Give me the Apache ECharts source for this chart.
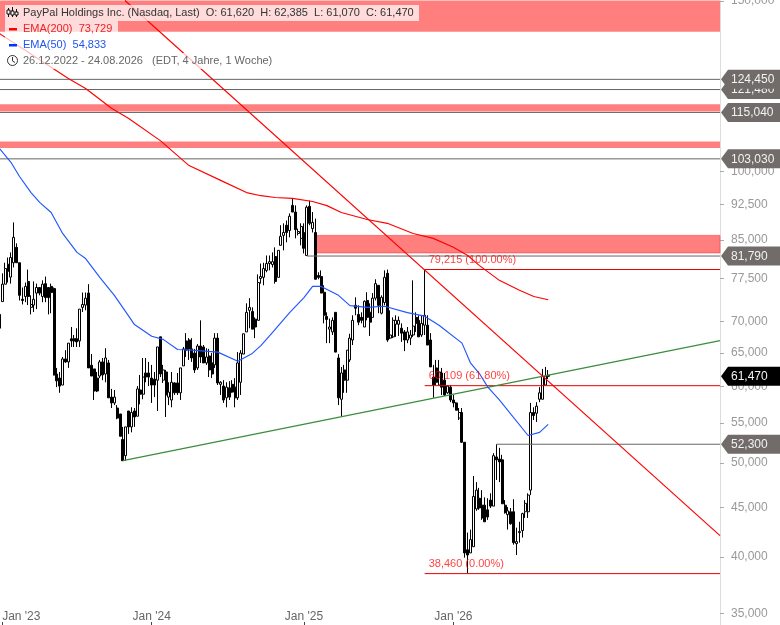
<!DOCTYPE html>
<html><head><meta charset="utf-8">
<style>html,body{margin:0;padding:0;background:#fff}#c{width:780px;height:625px}</style>
<script src="https://cdn.jsdelivr.net/npm/echarts@6/dist/echarts.min.js"></script>
</head><body><div id="c"></div>
<script>
// weekly candles, one per week starting 26.12.2022 (week index = array position)
const opens=[68.9,73.4,76.5,80.2,77.8,80.5,83.5,80.5,73.8,74.3,77.0,72.4,72.8,74.9,75.9,74.3,76.6,75.9,76.1,75.7,61.8,61.2,60.2,64.05,63.6,67.2,67.2,67.2,66.85,72.4,72.8,74.9,63.1,62.55,61.2,61.5,63.6,61.8,63.45,58.5,57.7,57.0,56.2,52.9,50.9,56.6,54.5,56.6,55.9,59.5,58.9,61.95,61.95,61.2,61.05,60.9,67.5,60.9,62.1,58.5,58.1,60.5,60.5,59.1,63.0,66.85,67.0,65.6,64.95,62.7,66.05,65.9,63.45,64.5,63.45,63.15,67.3,60.3,60.05,58.4,59.8,60.3,59.9,58.4,60.6,64.8,68.3,71.9,71.7,70.4,70.2,77.55,77.75,79.05,80.35,80.15,81.7,77.75,83.9,85.9,88.0,86.9,92.25,90.8,86.3,85.3,86.5,81.9,92.05,87.3,86.5,78.1,77.9,75.05,70.85,68.75,68.3,71.55,64.2,58.2,62.4,60.9,63.9,67.0,72.75,71.2,70.7,69.1,73.6,71.55,70.7,74.0,76.3,71.4,73.25,78.5,67.3,67.5,69.55,69.55,68.9,68.3,67.0,67.3,67.8,70.7,70.2,67.8,69.4,69.4,67.0,61.35,62.7,60.2,61.95,60.9,59.1,59.9,58.1,57.7,55.65,56.4,52.55,40.7,40.4,41.0,44.85,46.0,45.25,45.25,44.75,45.8,45.15,50.75,50.5,50.4,45.25,44.25,44.55,44.55,41.3,42.4,42.6,44.55,44.55,46.9,56.4,56.3,58.2,58.2,60.2,61.62];
const highs=[71.2,78.5,80.5,81.5,82.5,88.6,84.3,80.5,75.9,76.8,79.2,74.5,77.0,76.6,75.9,77.2,77.9,75.9,76.6,75.9,62.7,62.1,64.35,65.4,66.5,69.1,67.8,68.9,72.1,75.0,75.0,76.5,64.8,62.55,62.1,63.9,64.2,65.7,63.9,59.65,59.5,57.4,56.2,54.5,54.5,56.6,57.1,57.0,60.05,61.65,64.2,64.2,63.6,63.15,62.1,65.9,67.5,63.15,62.4,60.6,62.1,60.6,61.95,62.7,65.9,68.1,67.3,67.3,65.6,66.35,70.2,66.2,65.7,65.6,64.95,68.1,68.1,60.75,60.9,60.6,60.75,60.9,61.2,65.1,65.4,68.0,73.1,74.0,72.4,70.7,78.3,80.35,80.5,81.9,81.9,82.5,83.5,82.9,88.0,88.4,89.0,90.5,93.8,92.25,87.3,88.4,88.4,92.25,93.3,90.8,89.4,78.7,79.05,76.3,71.55,70.5,70.7,71.55,64.8,62.85,63.15,65.4,68.0,71.05,74.15,72.75,71.55,73.6,75.05,73.1,74.9,77.4,76.3,74.5,79.05,79.2,71.9,70.7,71.05,70.85,69.7,68.6,69.1,68.6,77.2,71.55,71.05,71.05,79.2,71.05,68.1,63.15,63.9,63.9,62.7,61.95,60.2,60.2,58.8,57.8,57.0,57.0,52.55,42.4,42.7,48.5,47.8,47.15,46.9,46.1,46.0,46.55,51.2,52.3,51.85,51.0,45.8,45.05,44.95,45.9,42.9,43.5,44.45,45.8,46.55,57.7,57.1,57.8,59.9,62.55,62.85,62.385];
const lows=[67.3,73.4,76.5,76.8,76.6,79.6,80.5,73.6,72.9,73.3,72.8,71.2,71.6,72.1,74.5,73.3,73.3,71.2,71.4,61.6,59.9,59.1,60.2,63.45,62.7,65.9,65.9,65.9,65.9,71.6,71.9,62.7,61.5,58.1,59.2,61.2,60.9,60.6,58.4,57.0,57.4,55.5,53.3,50.25,50.3,53.6,53.8,54.5,55.9,57.5,58.2,60.6,60.05,57.7,58.5,56.6,61.35,60.5,55.8,57.4,57.1,58.8,58.8,58.1,63.0,64.35,63.9,63.6,61.95,62.4,63.45,63.45,63.15,61.35,61.2,62.7,60.2,58.8,57.7,57.1,58.1,59.1,57.1,58.1,58.8,64.8,68.3,68.9,68.75,67.3,70.2,76.6,76.3,78.7,79.05,79.6,76.6,77.75,83.9,82.9,84.5,85.5,90.8,85.3,85.9,83.9,82.3,81.9,88.0,86.5,77.4,77.4,74.9,69.7,66.5,66.5,67.8,65.1,57.4,55.9,59.1,59.1,63.6,66.2,71.05,69.4,69.7,69.1,70.2,67.65,70.7,73.6,71.4,71.2,72.75,66.7,67.15,67.3,67.5,67.65,66.7,65.25,66.5,66.2,67.5,68.3,67.5,67.5,67.8,66.2,62.85,58.4,60.2,60.2,58.8,58.65,58.95,57.8,57.1,56.7,55.4,52.45,39.95,38.46,40.4,41.0,44.65,44.75,43.7,43.5,43.7,44.95,45.15,48.05,47.8,45.4,44.35,42.7,43.2,41.2,40.2,41.4,41.9,43.9,43.9,46.35,55.4,55.15,57.8,58.2,60.2,61.07];
const closes=[71.2,76.5,79.4,78.9,81.5,85.5,80.5,74.5,73.6,76.1,74.3,72.9,73.8,75.9,74.9,76.5,74.1,74.1,75.0,61.65,60.8,60.05,64.05,63.6,66.5,66.85,66.85,66.7,72.1,72.9,74.0,62.7,61.5,59.35,59.35,63.6,61.65,64.2,58.4,57.7,58.5,55.65,53.3,50.3,54.5,54.5,56.4,55.8,59.65,58.9,61.35,61.35,61.35,60.2,60.2,65.9,61.8,62.4,58.8,59.2,60.6,59.1,59.1,62.7,65.6,65.4,65.6,64.2,62.4,66.05,64.35,63.45,64.35,62.4,61.8,67.3,60.5,60.6,58.1,59.9,58.5,59.2,58.4,63.45,64.95,68.0,71.55,72.4,68.75,69.1,76.8,77.9,79.4,80.35,80.7,80.7,77.0,82.9,85.7,86.5,86.5,89.9,90.8,87.1,86.7,87.75,83.3,91.85,88.4,88.6,77.4,77.75,74.9,71.05,70.35,69.1,70.2,65.1,58.4,61.95,60.9,65.4,67.3,70.2,72.25,69.9,70.2,73.45,70.7,69.9,74.0,76.6,72.75,74.15,77.75,67.0,67.8,70.2,70.2,70.2,68.1,67.0,68.3,67.8,69.25,69.7,67.5,69.7,71.05,66.2,62.85,60.2,60.6,62.1,59.9,58.8,60.05,58.1,57.7,56.7,56.4,52.55,40.4,40.2,41.7,46.2,46.9,44.95,43.9,43.5,44.0,45.15,50.9,50.4,50.15,45.4,44.45,44.65,43.3,41.4,41.5,42.5,44.35,45.45,46.35,56.4,56.0,57.25,59.1,61.5,61.5,61.47];
const ema200Weeks=[0,24,30,39,45,56,66,77,86,91,96,102,109,114,119,128,135,144,151,158,163,167,174,181,186,191];
const ema200Vals=[138.8,124.7,121.8,116.2,113.4,107.6,101.4,97.9,95.1,94.4,94.0,93.8,93.1,92.2,90.7,89.2,88.4,86.3,85.3,83.5,81.9,80.0,77.2,75.4,74.3,73.729];
const ema50Weeks=[0,4,7,11,14,18,22,27,30,35,40,45,47,53,57,62,67,76,83,88,91,95,101,106,109,112,118,122,128,134,142,148,153,161,164,167,170,174,184,188,191];
const ema50Vals=[105.6,102.2,98.8,95.1,92.9,90.7,86.3,82.5,81.3,77.7,74.5,70.9,69.5,67.6,67.1,65.5,65.4,65.1,63.7,64.9,66.1,68.2,71.5,74.1,76.1,76.1,74.5,72.7,72.4,72.6,71.5,70.9,69.4,66.5,63.4,61.9,59.9,58.1,53.4,53.8,54.833];
const greenTrendWeeks=[43,250.8], greenTrendVals=[50.3,66.9];
const redTrendWeeks=[43.7,250.8], redTrendVals=[150.1,42.1];
const levelVals=[124.45,121.48,115.04,103.03,81.79,52.3];
const levelStartWeeks=[0.2,0.2,0.2,0.2,107,173];
const fibVals=[79.215,60.109,38.46];
const fibTexts=["79,215 (100.00%)","60,109 (61.80%)","38,460 (0.00%)"];
const zoneTop=[150.1,117.3,107.4,85.9];
const zoneBottom=[139.4,115.3,105.7,82.4];
const zoneStartWeeks=[0.2,0.2,0.2,110];
const tagOrder=[121.48,124.45,115.04,103.03,81.79,52.3,61.47];
const yTickVals=[35,40,45,50,55,60,65,70,77.5,85,92.5,100,150];
const xTickWeeks=[1,53,106,158];
const xTickLabels=["Jan '23","Jan '24","Jan '25","Jan '26"];

const FONT='"Liberation Sans",Arial,sans-serif';
const fmt=v=>v.toFixed(3).replace('.',',');
const XMIN=0.2,XMAX=250.8,YMIN=34,YMAX=150.1;
const candleData=opens.map((o,i)=>[i,o,closes[i],lows[i],highs[i]]);
const pair=(xs,ys)=>xs.map((x,i)=>[x,ys[i]]);
const lineSeries=(data,color,z,w)=>({type:'line',data,symbol:'none',silent:true,z:z||4,animation:false,lineStyle:{color,width:w||1},itemStyle:{color}});

const series=[
 {type:'line',data:[],z:1,silent:true,markArea:{silent:true,data:zoneTop.map((t,i)=>[
   {xAxis:zoneStartWeeks[i],yAxis:t,itemStyle:{color:'rgba(255,0,0,0.5)',borderColor:i===3?'rgba(255,60,60,0.6)':'transparent',borderWidth:i===3?1:0}},
   {xAxis:XMAX,yAxis:zoneBottom[i]}])}},
 {type:'candlestick',data:candleData,z:2,barWidth:2.5,silent:true,
  itemStyle:{color:'#ffffff',color0:'#000000',borderColor:'#000000',borderColor0:'#000000',borderWidth:1}},
 ...levelVals.map((v,i)=>lineSeries([[levelStartWeeks[i],v],[XMAX,v]],'#666666',3)),
 ...fibVals.map((v,i)=>lineSeries([[148,v],[XMAX,v]],'#e60000',3)),
 lineSeries(pair(greenTrendWeeks,greenTrendVals),'#3c8c3c',4,1.15),
 lineSeries(pair(redTrendWeeks,redTrendVals),'#ff0000',4,1.15),
 lineSeries(pair(ema200Weeks,ema200Vals),'#ff0000',4,1.15),
 lineSeries(pair(ema50Weeks,ema50Vals),'#2255ff',4,1.15),
 {type:'custom',z:6,silent:true,clip:false,data:tagOrder.map((v,i)=>[XMAX,v,i]),encode:{x:0,y:1},
  renderItem(params,api){
    const p=api.coord([api.value(0),api.value(1)]);
    const v=api.value(1),y=p[1],l=p[0]+1,r=780,h=9.5;
    const black=api.value(2)===tagOrder.length-1;
    return {type:'group',children:[
      {type:'polygon',shape:{points:[[l,y],[l+7,y-h],[r,y-h],[r,y+h],[l+7,y+h]]},style:{fill:black?'#000000':'#716c69'}},
      {type:'text',style:{text:fmt(v),x:731,y:y+0.5,fill:'#f2f2f2',font:'12px '+FONT,textAlign:'left',textVerticalAlign:'middle'}}
    ]};
  }},
 {type:'custom',z:5,silent:true,clip:false,data:fibVals.map((v,i)=>[148,v,i]),encode:{x:0,y:1},
  renderItem(params,api){
    const p=api.coord([api.value(0),api.value(1)]);
    return {type:'text',style:{text:fibTexts[api.value(2)],x:p[0]+4,y:p[1]-10,fill:'rgba(255,0,0,0.75)',font:'11px '+FONT,textAlign:'left',textVerticalAlign:'middle'}};
  }}
];

const legendRows=[
 {y:5,w:414,h:16,text:'PayPal Holdings Inc. (Nasdaq, Last)  O: 61,620  H: 62,385  L: 61,070  C: 61,470',fill:'#333333'},
 {y:21,w:113,h:16,text:'EMA(200)  73,729',fill:'#ee2222'},
 {y:37,w:103,h:16,text:'EMA(50)  54,833',fill:'#2255ee'},
 {y:53,w:267,h:16,text:'26.12.2022 - 24.08.2026   (EDT, 4 Jahre, 1 Woche)',fill:'#666666'}
];
const G=[];
legendRows.forEach(r=>{
 G.push({type:'rect',z:10,silent:true,shape:{x:5,y:r.y,width:r.w,height:r.h},style:{fill:'rgba(255,255,255,0.72)'}});
 G.push({type:'text',z:11,silent:true,style:{text:r.text,x:23,y:r.y+7.5,fill:r.fill,font:'11px '+FONT,textVerticalAlign:'middle'}});
});
G.push({type:'rect',z:11,silent:true,shape:{x:9,y:28,width:8,height:2.5},style:{fill:'#ff0000'}});
G.push({type:'rect',z:11,silent:true,shape:{x:9,y:44,width:8,height:2.5},style:{fill:'#0033ff'}});
[[8,8,17,10,14],[12,7,17,11,15],[16,9,17,12,15]].forEach(c=>{
 G.push({type:'line',z:11,silent:true,shape:{x1:c[0]+.5,y1:c[1],x2:c[0]+.5,y2:c[2]},style:{stroke:'#111',lineWidth:1}});
 G.push({type:'rect',z:11,silent:true,shape:{x:c[0]-1,y:c[3],width:3,height:c[4]-c[3]},style:{fill:'#fff',stroke:'#111',lineWidth:1}});
});
G.push({type:'circle',z:11,silent:true,shape:{cx:12.5,cy:60.5,r:5},style:{fill:'none',stroke:'#333',lineWidth:1}});
G.push({type:'polyline',z:11,silent:true,shape:{points:[[12.5,57],[12.5,61],[15,62.5]]},style:{fill:'none',stroke:'#333',lineWidth:1}});

const chart=echarts.init(document.getElementById('c'),null,{renderer:'canvas'});
chart.setOption({
 animation:false,backgroundColor:'#ffffff',
 grid:{left:0,top:0.5,width:720,height:625,containLabel:false,outerBoundsMode:'none'},
 xAxis:{type:'value',min:XMIN,max:XMAX,offset:-0.5,splitLine:{show:false},axisLine:{show:false},
  axisTick:{show:true,inside:true,length:3,lineStyle:{color:'#444'},customValues:xTickWeeks},
  axisLabel:{show:true,inside:true,margin:2,color:'#666666',fontFamily:FONT,fontSize:12,customValues:xTickWeeks,
   formatter:v=>{const i=xTickWeeks.indexOf(v);return i===0?'{first|'+xTickLabels[0]+'}':xTickLabels[i]||'';},
   rich:{first:{padding:[0,0,0,38],fontFamily:FONT,fontSize:12,color:'#666666'}}}},
 yAxis:{type:'log',logBase:10,min:YMIN,max:YMAX,position:'right',splitLine:{show:false},
  axisLine:{show:true,lineStyle:{color:'#dddddd'}},
  axisTick:{show:true,length:4,lineStyle:{color:'#aaaaaa'},customValues:yTickVals},
  axisLabel:{show:true,margin:11,padding:[2,0,0,0],color:'#999999',fontFamily:FONT,fontSize:12,customValues:yTickVals,formatter:fmt}},
 series,graphic:G
});
</script></body></html>
